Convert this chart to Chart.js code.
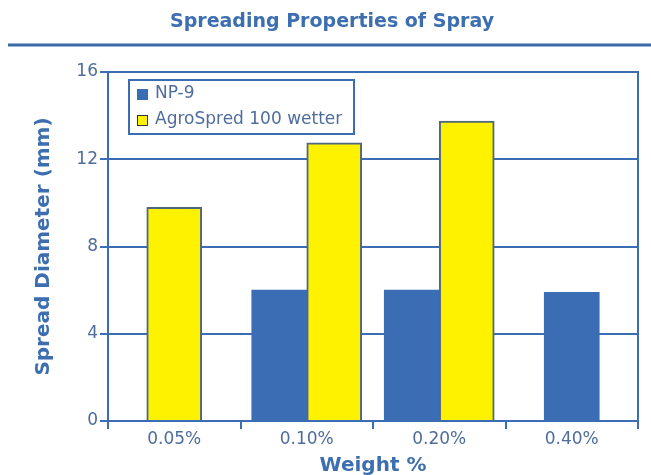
<!DOCTYPE html>
<html>
<head>
<meta charset="utf-8">
<script src="https://cdn.jsdelivr.net/npm/chart.js@4"></script>
<style>
  html, body { margin: 0; padding: 0; background: #fff; }
  #wrap { width: 651px; height: 475px; position: relative; }
</style>
</head>
<body>
<div id="wrap"><canvas id="sprayChart"></canvas></div>
<script>
// ---- data ----
const categories = ['0.05%', '0.10%', '0.20%', '0.40%'];
const np9 = [null, 6.0, 6.0, 5.9];
const agroSpred = [9.8, 12.75, 13.75, null];
const seriesNames = ['NP-9', 'AgroSpred 100 wetter'];
const yTicks = [0, 4, 8, 12, 16];

// ---- colours ----
const BLUE = '#3a6db4';
const YELLOW = '#fff200';
const YELLOW_EDGE = '#4f6680';
const TEXT = '#4e6c9c';
const FONT = '"DejaVu Sans", Verdana, sans-serif';

// title + rule under it
const headerPlugin = {
  id: 'header',
  afterDraw(chart) {
    const ctx = chart.ctx;
    ctx.save();
    ctx.fillStyle = '#3d6fb0';
    ctx.font = 'bold 19px ' + FONT;
    ctx.textAlign = 'center';
    ctx.textBaseline = 'middle';
    ctx.fillText('Spreading Properties of Spray', 332, 22);
    ctx.strokeStyle = '#3a6aa8';
    ctx.lineWidth = 3;
    ctx.beginPath();
    ctx.moveTo(8, 45);
    ctx.lineTo(651, 45);
    ctx.stroke();
    ctx.restore();
  }
};

// frame around plot area
const framePlugin = {
  id: 'frame',
  afterDatasetsDraw(chart) {
    const { ctx, chartArea: a } = chart;
    ctx.save();
    ctx.strokeStyle = BLUE;
    ctx.lineWidth = 2;
    ctx.strokeRect(a.left, a.top, a.right - a.left, a.bottom - a.top);
    ctx.restore();
  }
};

// boxed legend inside the plot, top-left
const boxLegendPlugin = {
  id: 'boxLegend',
  afterDraw(chart) {
    const ctx = chart.ctx;
    const x = 129, y = 80, w = 225, h = 54;
    ctx.save();
    ctx.fillStyle = '#fff';
    ctx.fillRect(x, y, w, h);
    ctx.strokeStyle = BLUE;
    ctx.lineWidth = 2;
    ctx.strokeRect(x, y, w, h);
    ctx.font = '17px ' + FONT;
    ctx.textBaseline = 'middle';
    chart.data.datasets.forEach((ds, i) => {
      const cy = y + 14 + i * 26;
      ctx.fillStyle = ds.backgroundColor;
      ctx.fillRect(x + 8, cy - 5, 11, 11);
      if (ds.borderWidth) {
        ctx.strokeStyle = '#333';
        ctx.lineWidth = 1;
        ctx.strokeRect(x + 8.5, cy - 4.5, 10, 10);
      }
      ctx.fillStyle = TEXT;
      ctx.fillText(ds.label, x + 26, cy);
    });
    ctx.restore();
  }
};

new Chart(document.getElementById('sprayChart'), {
  type: 'bar',
  data: {
    labels: categories,
    datasets: [
      {
        label: seriesNames[0],
        data: np9,
        backgroundColor: BLUE,
        borderColor: BLUE,
        borderWidth: 0,
        barThickness: 55,
        skipNull: true
      },
      {
        label: seriesNames[1],
        data: agroSpred,
        backgroundColor: YELLOW,
        borderColor: YELLOW_EDGE,
        borderWidth: 2,
        barThickness: 55,
        skipNull: true
      }
    ]
  },
  options: {
    responsive: true,
    maintainAspectRatio: false,
    animation: false,
    layout: { padding: { left: 30, top: 72, right: 13, bottom: 0 } },
    plugins: {
      legend: { display: false },
      tooltip: { enabled: false }
    },
    scales: {
      x: {
        grid: {
          offset: true,
          drawOnChartArea: false,
          drawTicks: true,
          tickLength: 8,
          color: BLUE,
          lineWidth: 2
        },
        border: { display: false },
        ticks: { color: TEXT, font: { family: FONT, size: 17 }, padding: 0 },
        title: {
          display: true,
          text: 'Weight %',
          color: '#3d6fb0',
          font: { family: FONT, size: 20, weight: 'bold' },
          padding: { top: 0, bottom: -3 }
        },
        afterFit: (s) => { s.height = 54; }
      },
      y: {
        min: 0,
        max: 16,
        afterBuildTicks: (s) => { s.ticks = yTicks.map((v) => ({ value: v })); },
        grid: {
          color: BLUE,
          lineWidth: 2,
          drawTicks: true,
          tickLength: 8
        },
        border: { display: false },
        ticks: { color: TEXT, font: { family: FONT, size: 17 }, padding: 2 },
        title: {
          display: true,
          text: 'Spread Diameter (mm)',
          color: '#3d6fb0',
          font: { family: FONT, size: 20, weight: 'bold' },
          padding: { top: 2, bottom: 0 }
        },
        afterFit: (s) => { s.width = 78; }
      }
    }
  },
  plugins: [headerPlugin, framePlugin, boxLegendPlugin]
});
</script>
</body>
</html>
